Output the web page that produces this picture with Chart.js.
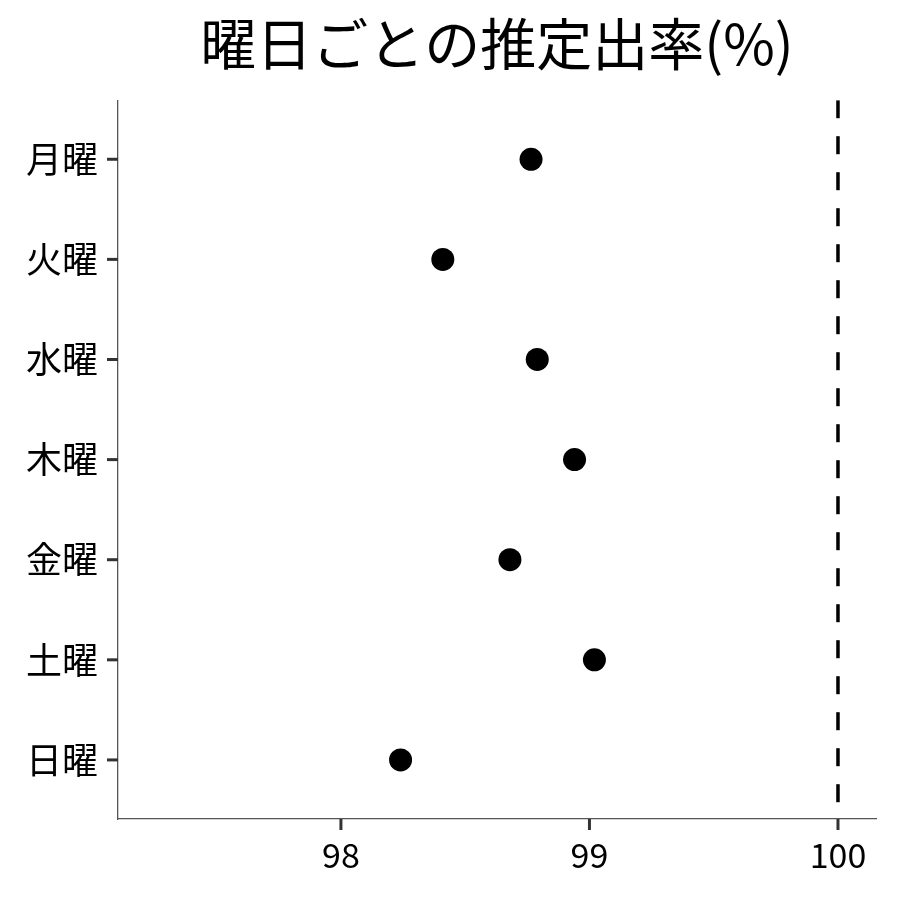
<!DOCTYPE html>
<html><head><meta charset="utf-8">
<script src="https://cdn.jsdelivr.net/npm/chart.js@4"></script>
<style>html,body{margin:0;padding:0;background:#fff;}#wrap{width:900px;height:900px;}</style>
</head><body><div id="wrap"><canvas id="c" width="900" height="900"></canvas></div>
<script>
const categories = ['月曜','火曜','水曜','木曜','金曜','土曜','日曜'];
const rates = [98.765, 98.41, 98.79, 98.94, 98.68, 99.02, 98.24];
const xTicks = [98, 99, 100];
const refValue = 100;
const titleText = '曜日ごとの推定出率(%)';

const FONT = "'Noto Sans CJK JP', 'Noto Sans', sans-serif";
const yMin = -0.59, yMax = categories.length - 1 + 0.59;
const TICK_LEN = 11;

const tickMarks = {
  id: 'tickMarks',
  afterDraw(chart) {
    const ctx = chart.ctx, xs = chart.scales.x, ys = chart.scales.y;
    const area = chart.chartArea;
    ctx.save();
    ctx.strokeStyle = '#333';
    ctx.lineWidth = 3;
    xs.ticks.forEach(t => {
      const px = xs.getPixelForValue(t.value);
      ctx.beginPath(); ctx.moveTo(px, area.bottom); ctx.lineTo(px, area.bottom + TICK_LEN); ctx.stroke();
    });
    ys.ticks.forEach(t => {
      const py = ys.getPixelForValue(t.value);
      ctx.beginPath(); ctx.moveTo(area.left, py); ctx.lineTo(area.left - TICK_LEN, py); ctx.stroke();
    });
    ctx.restore();
  }
};

new Chart(document.getElementById('c'), {
  type: 'scatter',
  data: {
    datasets: [
      {
        data: rates.map((v, i) => ({x: v, y: i})),
        backgroundColor: '#000', borderColor: '#000',
        pointRadius: 11.5, pointHoverRadius: 11.5, borderWidth: 0
      },
      {
        type: 'line',
        data: [{x: refValue, y: yMin}, {x: refValue, y: yMax}],
        borderColor: '#000', borderWidth: 3.5, borderDash: [18, 18],
        pointRadius: 0, fill: false
      }
    ]
  },
  plugins: [tickMarks],
  options: {
    responsive: false, animation: false,
    devicePixelRatio: 1,
    layout: {padding: {left: 0, right: 24, top: 0, bottom: 0}},
    plugins: {
      legend: {display: false}, tooltip: {enabled: false},
      title: {display: true, fullSize: false, text: titleText, color: '#000',
        font: {family: FONT, size: 56, weight: 'normal'}, padding: {top: 10, bottom: 23}}
    },
    scales: {
      x: {
        type: 'linear', min: 97.103, max: 100.153,
        afterBuildTicks: s => { s.ticks = xTicks.map(v => ({value: v})); },
        afterFit: s => { s.height = 81; },
        grid: {display: true, drawOnChartArea: false, drawTicks: true, tickLength: TICK_LEN, color: 'rgba(0,0,0,0)', tickColor: 'rgba(0,0,0,0)'},
        border: {display: true, color: '#555', width: 1.3},
        ticks: {color: '#000', font: {family: FONT, size: 34}, padding: 5, callback: v => String(v)}
      },
      y: {
        type: 'linear', min: yMin, max: yMax, reverse: true,
        afterBuildTicks: s => { s.ticks = categories.map((c, i) => ({value: i})); },
        afterFit: s => { s.width = 118; },
        grid: {display: true, drawOnChartArea: false, drawTicks: true, tickLength: TICK_LEN, color: 'rgba(0,0,0,0)', tickColor: 'rgba(0,0,0,0)'},
        border: {display: true, color: '#555', width: 1.3},
        ticks: {color: '#000', font: {family: FONT, size: 36}, padding: 9, callback: v => categories[v]}
      }
    }
  }
});
</script></body></html>
